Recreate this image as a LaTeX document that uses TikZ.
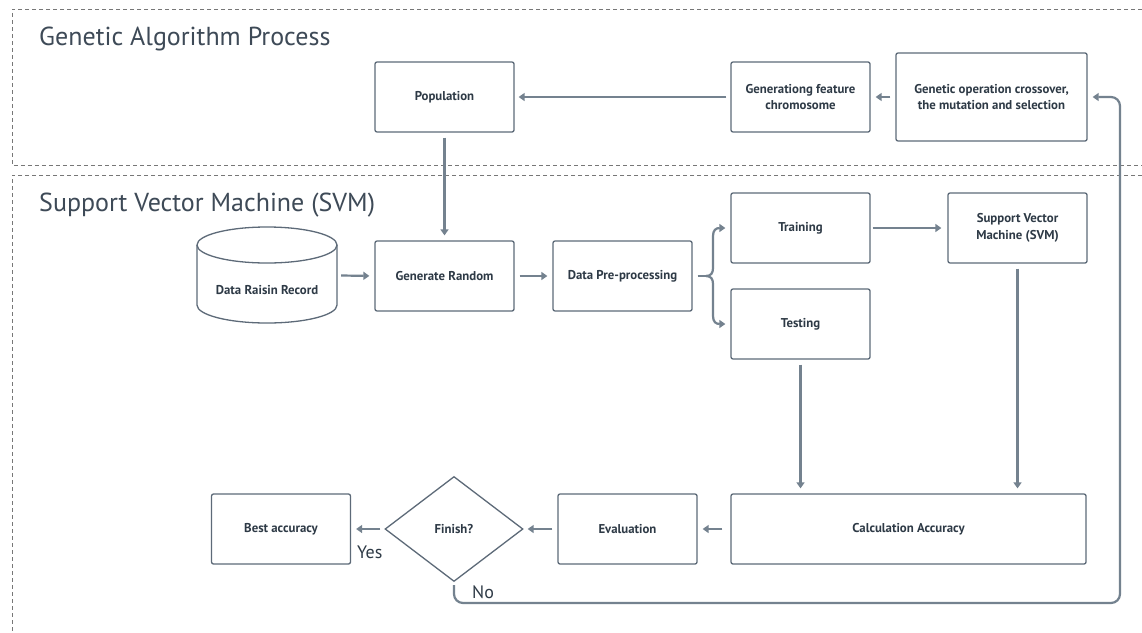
\documentclass[tikz,border=0pt]{standalone}
\usepackage{fontspec}
\setmainfont{PT Sans}
\usetikzlibrary{arrows.meta,shapes.geometric,calc}
\definecolor{boxc}{HTML}{5D6A78}
\definecolor{arrc}{HTML}{74828F}
\definecolor{txtc}{HTML}{2E3A46}
\definecolor{titc}{HTML}{3E4A57}
\definecolor{framec}{HTML}{777777}
\begin{document}
\begin{tikzpicture}[x=1pt,y=-1pt,
  box/.style={draw=boxc, line width=1.3pt, rounded corners=2pt, inner sep=0pt,
    align=center, text=txtc, font=\fontsize{12.8}{16.5}\selectfont\bfseries},
  arr/.style={draw=arrc, line width=2.2pt, -{Triangle[length=6pt,width=8pt]},
    shorten <=5pt, shorten >=5pt},
  frame/.style={draw=framec, line width=1pt, dash pattern=on 4pt off 3pt},
  title/.style={anchor=base west, text=titc, font=\fontsize{26}{30}\selectfont, inner sep=0pt},
  lab/.style={anchor=base west, text=txtc, font=\fontsize{18}{21}\selectfont, inner sep=0pt}]
\useasboundingbox[fill=white] (0,0) rectangle (1142,632);
% frames
\draw[frame] (1142,9) -- (12,9) -- (12,165) -- (1142,165);
\draw[frame] (1142,175) -- (12,175) -- (12,632);
\node[title] (t1) at (39,45) {Genetic Algorithm Process};
\node[title] (t2) at (39,211) {Support Vector Machine (SVM)};
% GA nodes
\node[box, minimum width=139pt, minimum height=70pt] (pop) at (444.5,97) {Population};
\node[box, minimum width=139pt, minimum height=70pt] (gfc) at (800.5,97) {Generationg feature\\chromosome};
\node[box, minimum width=191pt, minimum height=88pt] (gop) at (991.5,97) {Genetic operation crossover,\\the mutation and selection};
% cylinder
\draw[draw=boxc, line width=1.3pt] (267,245) ellipse [x radius=70pt, y radius=18pt];
\draw[draw=boxc, line width=1.3pt] (197,245) -- (197,305) arc[start angle=180, end angle=360, x radius=70pt, y radius=18pt] -- (337,245);
\node[minimum width=148pt, minimum height=95pt, inner sep=0pt] (cyl) at (267,275.5) {};
\node[text=txtc, font=\fontsize{12.8}{16.5}\selectfont\bfseries, inner sep=0pt] (cyltxt) at (267,290) {Data Raisin Record};
% SVM nodes
\node[box, minimum width=139pt, minimum height=70pt] (gr) at (444.5,276) {Generate Random};
\node[box, minimum width=139pt, minimum height=70pt] (dp) at (622.5,276) {Data Pre-processing};
\node[box, minimum width=139pt, minimum height=70pt] (train) at (800.5,228) {Training};
\node[box, minimum width=139pt, minimum height=70pt] (test) at (800.5,324) {Testing};
\node[box, minimum width=139pt, minimum height=70pt] (svm) at (1017.5,228) {Support Vector\\Machine (SVM)};
\node[box, minimum width=355pt, minimum height=70pt] (calc) at (908.5,529) {Calculation Accuracy};
\node[box, minimum width=139pt, minimum height=70pt] (eval) at (627.5,529) {Evaluation};
\node[box, minimum width=139pt, minimum height=70pt] (best) at (281,529) {Best accuracy};
\node[box, diamond, rounded corners=0pt, minimum width=138pt, minimum height=105pt] (dia) at (454,529) {Finish?};
\node[lab] (yes) at (357,558) {Yes};
\node[lab] (no) at (472,598) {No};
% arrows
\draw[arr] (gop) -- (gfc);
\draw[arr, shorten <=4pt, shorten >=4pt] (gfc) -- (pop);
\draw[arr] (pop) -- (gr);
\draw[arr, shorten <=0pt] (cyl.east) -- (gr.west);
\draw[arr] (gr) -- (dp);
\draw[arr, shorten <=2pt, shorten >=6pt] (train) -- (svm);
\draw[arr] (svm.south) -- (calc.north -| svm.south);
\draw[arr] (test) -- (calc.north -| test.south);
\draw[arr, shorten <=8pt] (calc) -- (eval);
\draw[arr, shorten >=4pt] (eval) -- (dia);
\draw[arr, shorten <=4pt] (dia) -- (best);
% brace
\draw[draw=arrc, line width=2.2pt] ([xshift=5pt]dp.east) -- (706,276);
\draw[draw=arrc, line width=2.2pt, -{Triangle[length=6pt,width=8pt]}]
  (706,276) .. controls (711,276) and (713,273) .. (713,268) -- (713,236)
  .. controls (713,230) and (716,228) .. ([xshift=-5pt]train.west);
\draw[draw=arrc, line width=2.2pt, -{Triangle[length=6pt,width=8pt]}]
  (706,276) .. controls (711,276) and (713,279) .. (713,284) -- (713,316)
  .. controls (713,322) and (716,324) .. ([xshift=-5pt]test.west);
% loop
\coordinate (loopc) at (1120,603);
\draw[arr, shorten <=0pt, rounded corners=9pt] ([yshift=-3pt]dia.south) |- (loopc) |- (gop.east);
\end{tikzpicture}
\end{document}
